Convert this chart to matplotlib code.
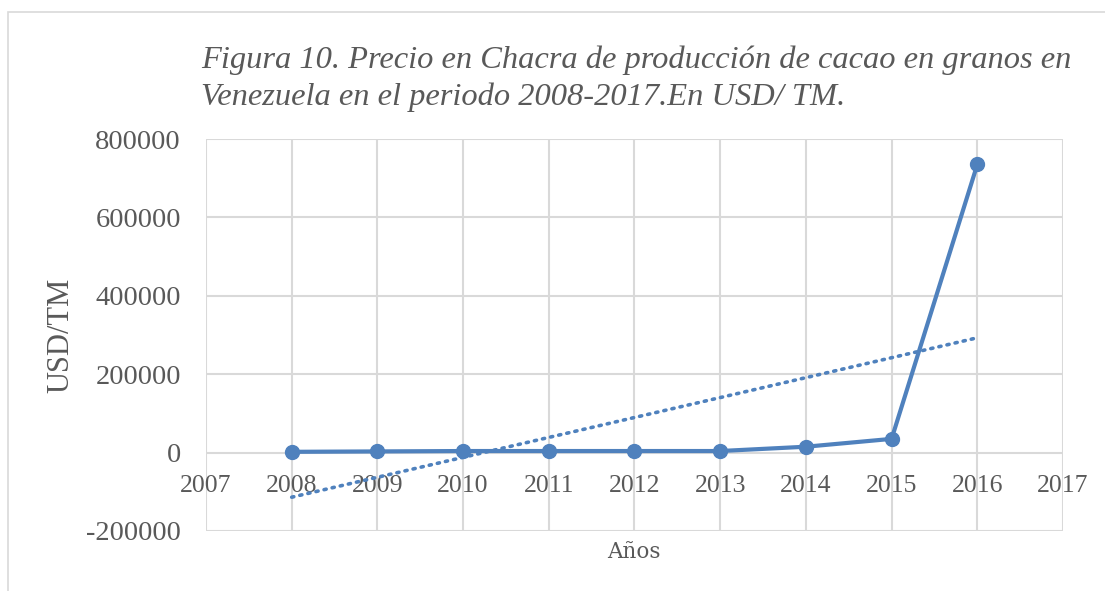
import numpy as np
import matplotlib
matplotlib.use('Agg')
import matplotlib.pyplot as plt
from matplotlib.patches import Rectangle

years = [2008, 2009, 2010, 2011, 2012, 2013, 2014, 2015, 2016]
precio = [2000, 3000, 4000, 4000, 4000, 4000, 15000, 35000, 735000]

title = ('Figura 10. Precio en Chacra de producción de cacao en granos en\n'
         'Venezuela en el periodo 2008-2017.En USD/ TM.')
grey = '#595959'
blue = '#4f81bd'
grid_c = '#d9d9d9'

plt.rcParams['axes.unicode_minus'] = False

fig = plt.figure(figsize=(11.05, 5.91), dpi=100)
ax = fig.add_axes([206 / 1105, 1 - 531 / 591, (1063 - 206) / 1105, (531 - 139) / 591])

# outer chart border
fig.patches.append(Rectangle((8 / 1105, -0.05), 1.1, 1 - 12 / 591 + 0.05,
                             transform=fig.transFigure, fill=False,
                             edgecolor=grid_c, linewidth=1.2))

ax.plot(years, precio, '-o', color=blue, linewidth=3, markersize=10, zorder=3)

# linear trend line
x = np.array(years)
coef = np.polyfit(x, precio, 1)
ax.plot(x, np.polyval(coef, x), linestyle=(0, (0.6, 1.7)), color=blue,
        linewidth=2.6, dash_capstyle='round', zorder=3)

ax.set_xlim(2007, 2017)
ax.set_ylim(-200000, 800000)
ax.set_xticks(range(2007, 2018))
ax.set_yticks(range(-200000, 800001, 200000))
ax.grid(True, color=grid_c, linewidth=1.5)
ax.set_axisbelow(True)
for s in ax.spines.values():
    s.set_visible(False)
ax.spines['bottom'].set_position(('data', 0))

ax.tick_params(axis='both', length=0, labelcolor=grey)
ax.tick_params(axis='x', pad=16)
ax.tick_params(axis='y', pad=18)
for lab in ax.get_xticklabels():
    lab.set_fontfamily('Liberation Serif')
    lab.set_fontsize(18.5)
for lab in ax.get_yticklabels():
    lab.set_fontfamily('Liberation Serif')
    lab.set_fontsize(20.5)

ax.set_ylabel('USD/TM', fontfamily='Liberation Serif', fontsize=22, color=grey)
ax.yaxis.set_label_coords(-131 / 857, 0.5)
fig.text(634 / 1105, 1 - 552 / 591, 'Años', ha='center', va='center',
         fontfamily='DejaVu Serif', fontsize=15.5, color=grey)

fig.text(201 / 1105, 1 - 78.5 / 591, title, ha='left', va='center',
         fontfamily='Liberation Serif', style='italic', fontsize=23.4,
         color=grey, linespacing=1.33)

fig.savefig('out.png', dpi=100)
